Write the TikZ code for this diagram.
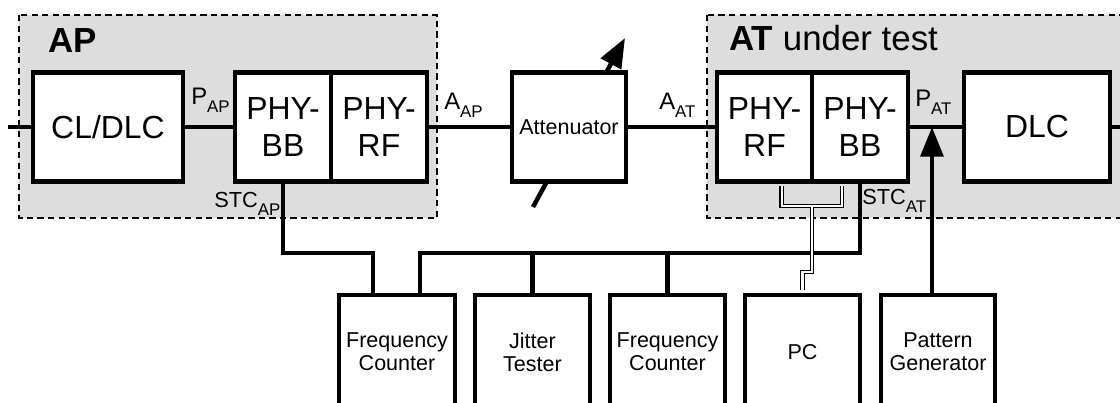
\documentclass[tikz,border=0pt]{standalone}
\usepackage{fontspec}
\setmainfont{Liberation Sans}
\usetikzlibrary{arrows.meta}
\definecolor{fondo}{RGB}{221,221,221}
\newcommand{\subtxt}[1]{\raisebox{-5.5pt}{\fontsize{12}{13}\selectfont #1}}

\begin{document}
\begin{tikzpicture}[x=0.25mm,y=-0.25mm,
    >={Triangle[length=21pt,width=16pt]},
    bloque/.style={draw,line width=3.2pt,fill=white,inner sep=0pt,align=center,
      minimum height=27.25mm,font=\fontsize{22.7}{26}\selectfont},
    equipo/.style={draw,line width=3.2pt,fill=white,inner sep=0pt,align=center,
      minimum height=28.5mm,font=\fontsize{15.3}{16.3}\selectfont},
    cable/.style={line width=3.2pt},
    bus/.style={double,line width=1pt,double distance=1.5pt},
    zona/.style={dash pattern=on 4.5pt off 3pt,line width=1pt,fill=fondo},
    etiq/.style={anchor=base west,inner sep=0pt,font=\fontsize{17}{20}\selectfont}]
        \useasboundingbox (0,0) rectangle (1120,403);
        \clip (0,0) rectangle (1120,403);

        % Zonas AP y AT
        \draw[zona] (19,15) rectangle (437,218);
        \draw[zona] (707,15) rectangle (1135,218);
        \node[anchor=base west,inner sep=0pt,font=\fontsize{24.8}{28}\selectfont\bfseries] (titap) at (48,53) {AP};
        \node[anchor=base west,inner sep=0pt,font=\fontsize{24.8}{28}\selectfont] (titat) at (729,51) {\textbf{AT} under test};

        % Flecha del atenuador (queda detras del bloque)
        \draw[cable,->] (533,207) -- (625,38);

        % Bloques de la cadena
        \node[bloque,minimum width=37.5mm] (cldlc) at (108,127) {CL/DLC};
        \node[bloque,minimum width=24mm] (apbb) at (283,127) {PHY-\\BB};
        \node[bloque,minimum width=24mm] (aprf) at (379,127) {PHY-\\RF};
        \node[bloque,minimum width=28.5mm,font=\fontsize{15.3}{17}\selectfont] (aten) at (569,127) {Attenuator};
        \node[bloque,minimum width=23.75mm] (atrf) at (764.5,127) {PHY-\\RF};
        \node[bloque,minimum width=24mm] (atbb) at (860,127) {PHY-\\BB};
        \node[bloque,minimum width=36.5mm] (dlc) at (1037,127) {DLC};

        % Equipos de medida
        \node[equipo,minimum width=29mm] (fc1) at (397,352) {Frequency\\Counter};
        \node[equipo,minimum width=28.75mm] (jt) at (532.5,352) {Jitter\\Tester};
        \node[equipo,minimum width=28.75mm] (fc2) at (667.5,352) {Frequency\\Counter};
        \node[equipo,minimum width=28.75mm] (pc) at (802.5,352) {PC};
        \node[equipo,minimum width=28.5mm] (pg) at (938,352) {Pattern\\Generator};

        % Linea de senal
        \coordinate (entrada) at (8,127);
        \coordinate (salida) at (1125,127);
        \draw[cable] (entrada) -- (cldlc);
        \draw[cable] (cldlc) -- (apbb);
        \draw[cable] (aprf) -- (aten);
        \draw[cable] (aten) -- (atrf);
        \draw[cable] (atbb) -- (dlc);
        \draw[cable] (dlc) -- (salida);

        % Etiquetas
        \node[etiq] (pap) at (191,105) {P\subtxt{AP}};
        \node[etiq] (aap) at (444,110) {A\subtxt{AP}};
        \node[etiq] (aat) at (659,110) {A\subtxt{AT}};
        \node[etiq] (pat) at (915,107) {P\subtxt{AT}};
        \node[etiq,font=\fontsize{15.5}{18}\selectfont] (stcap) at (214,208) {STC\subtxt{AP}};
        \node[etiq,font=\fontsize{15.5}{18}\selectfont] (stcat) at (862,205) {STC\subtxt{AT}};

        % Relojes STC
        \coordinate (ramaA) at (373,253);
        \coordinate (ramaB) at (420,253);
        \draw[cable] (apbb.south) |- (ramaA) -- (ramaA |- fc1.north);
        \draw[cable] (atbb.south) |- (ramaB) -- (ramaB |- fc1.north);
        \draw[cable] (jt.north) -- (jt.north |- ramaB);
        \draw[cable] (fc2.north) -- (fc2.north |- ramaB);

        % Bus hacia el PC
        \coordinate (nudo) at (812,206);
        \draw[bus] ([shift={(12.4pt,-1.6pt)}]atrf.south) |- (nudo) -| ([shift={(-12.8pt,-1.6pt)}]atbb.south)
                   (nudo) -- ++(0,66) -| ([yshift=1.6pt]pc.north);

        % Generador de patrones
        \coordinate (pgin) at ([xshift=-4.3pt]pg.north);
        \draw[cable,->] (pgin) -- (pgin |- dlc.west);
    \end{tikzpicture}
\end{document}
